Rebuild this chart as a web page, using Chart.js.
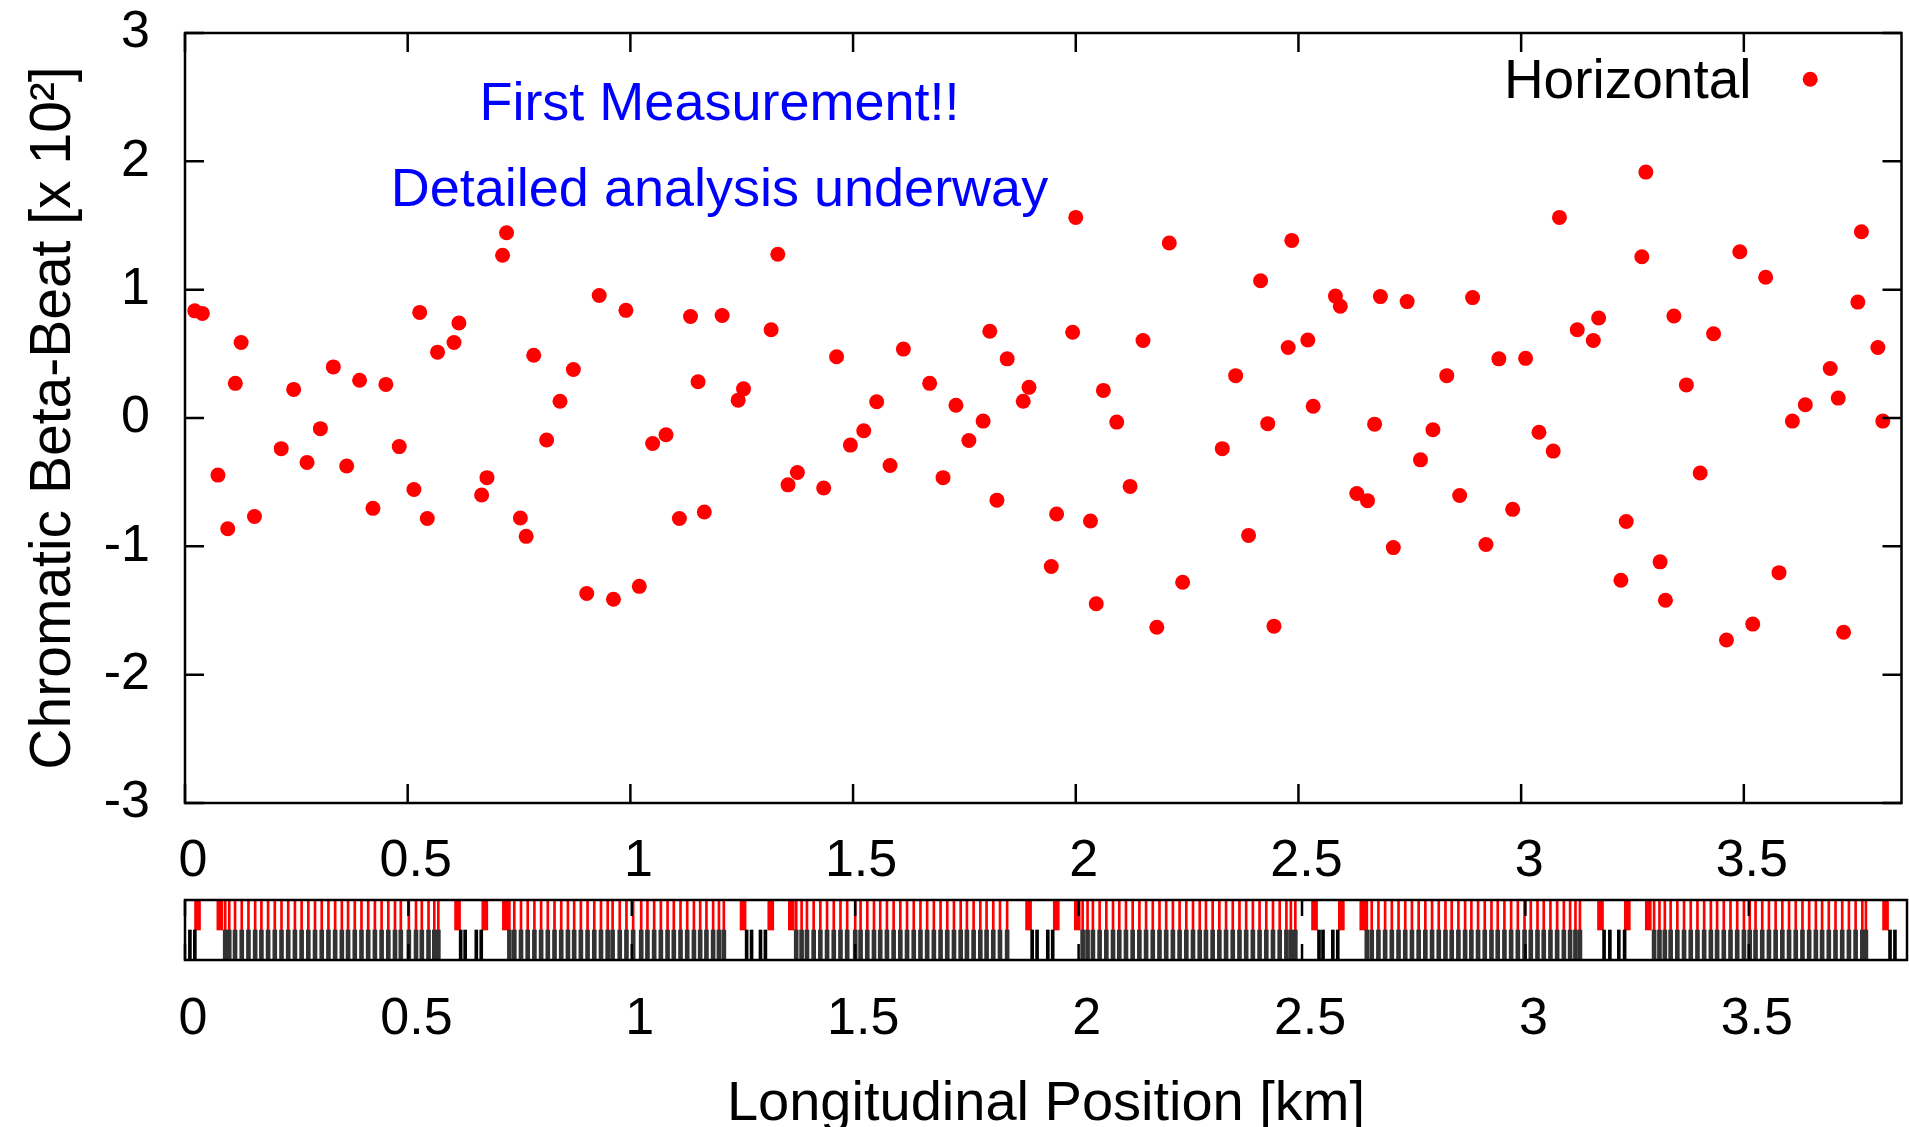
<!DOCTYPE html>
<html><head><meta charset="utf-8">
<script src="https://cdn.jsdelivr.net/npm/chart.js@4"></script>
<style>
html,body{margin:0;padding:0;background:#fff;overflow:hidden;width:1909px;height:1127px;}
#c1{position:absolute;left:0;top:0;}
#c2{position:absolute;left:0;top:890px;}
</style></head><body>
<canvas id="c1" width="1909" height="890"></canvas>
<canvas id="c2" width="1909" height="237"></canvas>
<script>
// ---------- data ----------
const seriesLabel = 'Horizontal';
const positionKm = [
 0.022,0.039,0.074,0.096,0.113,0.126,0.156,0.216,0.244,0.274,0.304,0.333,0.363,0.392,0.422,0.451,0.481,0.514,0.527,0.544,
 0.567,0.604,0.615,0.666,0.678,0.713,0.722,0.753,0.766,0.783,0.812,0.842,0.872,0.902,0.930,0.962,0.990,
 1.020,1.050,1.080,1.110,1.135,1.152,1.166,1.206,1.242,1.254,1.316,1.331,1.354,1.375,1.434,1.463,1.494,1.524,1.553,
 1.583,1.613,1.672,1.702,1.731,1.760,1.792,1.807,1.823,1.846,1.882,1.895,1.945,1.957,
 1.993,2.000,2.033,2.046,2.062,2.092,2.122,2.151,2.182,2.210,2.240,2.329,2.359,2.388,2.415,2.431,2.445,2.477,2.485,
 2.521,2.533,2.583,2.594,2.631,2.655,2.671,2.684,2.713,2.744,2.774,2.802,2.833,2.862,2.891,2.921,2.950,
 2.981,3.010,3.040,3.072,3.086,3.126,3.162,3.174,3.224,3.236,3.271,3.280,3.312,3.324,3.343,3.371,3.402,3.432,3.461,
 3.491,3.520,3.549,3.579,3.609,3.638,3.694,3.712,3.724,3.756,3.764,3.801,3.812
];
const chromaticBetaBeat = [
 0.835,0.815,-0.445,-0.863,0.270,0.588,-0.767,-0.239,0.223,-0.346,-0.083,0.398,-0.374,0.294,-0.704,0.262,-0.223,-0.557,0.823,-0.783,
 0.513,0.588,0.740,-0.600,-0.465,1.268,1.443,-0.779,-0.922,0.489,-0.171,0.131,0.378,-1.368,0.954,-1.412,0.839,
 -1.312,-0.199,-0.131,-0.783,0.791,0.282,-0.732,0.799,0.139,0.227,0.688,1.276,-0.521,-0.425,-0.545,0.477,-0.211,-0.099,0.127,
 -0.370,0.537,0.270,-0.465,0.099,-0.175,-0.024,0.676,-0.640,0.461,0.131,0.239,-1.157,-0.748,
 0.668,1.563,-0.803,-1.447,0.215,-0.032,-0.533,0.604,-1.630,1.364,-1.280,-0.239,0.330,-0.915,1.070,-0.044,-1.622,0.549,1.384,
 0.608,0.091,0.950,0.871,-0.588,-0.644,-0.048,0.946,-1.010,0.907,-0.326,-0.091,0.330,-0.604,0.938,-0.986,0.461,
 -0.712,0.465,-0.111,-0.258,1.563,0.688,0.604,0.779,-1.264,-0.807,1.256,1.916,-1.121,-1.420,0.795,0.258,-0.429,0.656,-1.730,
 1.296,-1.606,1.097,-1.205,-0.024,0.103,0.386,0.155,-1.670,0.903,1.451,0.549,-0.024
];
const noteLines = ['First Measurement!!', 'Detailed analysis underway'];
const yAxisTitle = 'Chromatic Beta-Beat [x 10\u00B2]';
const xAxisTitle = 'Longitudinal Position [km]';
const xRange = [0, 3.854];
const yRange = [-3, 3];
const xTickStep = 0.5;
const yTickStep = 1;

// lattice strip: arc cells (quadrupole on top row, dipole on bottom row)
const arcCellKm = [
 0.090,0.099,0.112,0.127,0.142,0.157,0.171,0.186,0.201,0.216,0.231,0.246,0.261,0.276,0.291,0.306,0.321,0.336,0.351,0.365,
 0.380,0.395,0.410,0.425,0.440,0.455,0.470,0.483,0.501,0.517,0.530,0.545,0.558,0.567,
 0.726,0.737,0.752,0.767,0.782,0.797,0.812,0.827,0.842,0.857,0.871,0.886,0.901,0.916,0.931,0.946,0.957,0.973,0.988,1.003,
 1.021,1.035,1.050,1.065,1.080,1.094,1.109,1.124,1.139,1.153,1.167,1.182,1.195,1.206,
 1.368,1.380,1.392,1.407,1.422,1.437,1.452,1.467,1.482,1.500,1.512,1.527,1.542,1.556,1.571,1.586,1.601,1.616,1.631,1.646,
 1.661,1.676,1.691,1.706,1.721,1.736,1.750,1.765,1.780,1.794,1.809,1.824,1.840,
 2.009,2.020,2.032,2.047,2.062,2.077,2.091,2.106,2.121,2.136,2.151,2.166,2.181,2.196,2.211,2.226,2.241,2.256,2.271,2.285,
 2.300,2.315,2.330,2.345,2.360,2.375,2.390,2.405,2.420,2.435,2.450,2.465,2.475,2.485,
 2.645,2.656,2.671,2.686,2.701,2.716,2.731,2.746,2.761,2.776,2.791,2.806,2.821,2.835,2.850,2.865,2.879,2.894,2.909,2.924,
 2.938,2.953,2.968,2.983,2.998,3.012,3.027,3.041,3.056,3.071,3.086,3.100,3.112,3.122,
 3.288,3.300,3.312,3.325,3.340,3.355,3.370,3.385,3.400,3.415,3.429,3.444,3.459,3.474,3.489,3.502,3.515,3.530,3.545,3.560,
 3.575,3.590,3.605,3.620,3.635,3.650,3.664,3.679,3.694,3.709,3.724,3.739,3.754,3.762
];
const wideQuadKm = [0.028,0.078,0.610,0.671,0.717,1.249,1.311,1.357,1.888,1.950,1.997,2.528,2.588,2.636,3.168,3.228,3.275,3.806];
const straightBendKm = [0.011,0.022,0.617,0.627,0.652,0.663,1.257,1.268,1.288,1.299,1.896,1.907,1.931,1.942,
 2.538,2.547,2.569,2.580,3.176,3.189,3.209,3.222,3.816,3.827];

// ---------- styling ----------
const FONT = "'Liberation Sans', Arial, Helvetica, sans-serif";
Chart.defaults.font.family = FONT;
Chart.defaults.color = '#000';

const fmtTick = v => String(Math.round(v * 100) / 100);

const frameTicks = {
  id: 'frameTicks',
  afterDraw(chart, args, o) {
    const {ctx, chartArea: a, scales} = chart;
    ctx.save();
    ctx.strokeStyle = '#000';
    ctx.lineWidth = o.lineWidth;
    ctx.beginPath();
    scales.x.ticks.forEach(t => {
      const px = scales.x.getPixelForValue(t.value);
      ctx.moveTo(px, a.bottom); ctx.lineTo(px, a.bottom - o.len);
      ctx.moveTo(px, a.top); ctx.lineTo(px, a.top + o.len);
    });
    if (o.yTicks) {
      scales.y.ticks.forEach(t => {
        const py = scales.y.getPixelForValue(t.value);
        ctx.moveTo(a.left, py); ctx.lineTo(a.left + o.len, py);
        ctx.moveTo(a.right, py); ctx.lineTo(a.right - o.len, py);
      });
    }
    ctx.stroke();
    ctx.strokeRect(a.left, a.top, a.right - a.left, a.bottom - a.top);
    ctx.restore();
  }
};

const notes = {
  id: 'notes',
  afterDraw(chart, args, o) {
    const {ctx, chartArea: a, scales: {x}} = chart;
    ctx.save();
    ctx.fillStyle = '#0000ff';
    ctx.font = o.noteSize + 'px ' + FONT;
    ctx.textAlign = 'center';
    ctx.textBaseline = 'alphabetic';
    const cx = x.getPixelForValue(o.noteAtKm);
    noteLines.forEach((t, i) => ctx.fillText(t, cx, a.top + o.noteBaselines[i]));
    const ds = chart.data.datasets[0];
    ctx.fillStyle = '#000';
    ctx.font = o.legendSize + 'px ' + FONT;
    ctx.textAlign = 'right';
    ctx.fillText(ds.label, a.right - o.legendTextRight, a.top + o.legendBaseline);
    ctx.beginPath();
    ctx.arc(a.right - o.legendDotRight, a.top + o.legendDotY, ds.pointRadius, 0, Math.PI * 2);
    ctx.fillStyle = ds.pointBackgroundColor;
    ctx.fill();
    ctx.restore();
  }
};

const noGrid = {display: false, drawTicks: false};

new Chart(document.getElementById('c1'), {
  type: 'scatter',
  data: {
    datasets: [{
      label: seriesLabel,
      data: positionKm.map((x, i) => ({x: x, y: chromaticBetaBeat[i]})),
      pointRadius: 7.5,
      pointBackgroundColor: '#ff0000',
      pointBorderWidth: 0,
      showLine: false
    }]
  },
  options: {
    responsive: false,
    devicePixelRatio: 1,
    animation: false,
    events: [],
    layout: {padding: {top: 33, right: 2, left: 0, bottom: 0}},
    plugins: {
      legend: {display: false},
      tooltip: {enabled: false},
      frameTicks: {len: 19, lineWidth: 2.5, yTicks: true},
      notes: {noteAtKm: 1.2, noteSize: 54, noteBaselines: [86.5, 173],
              legendSize: 55, legendTextRight: 150, legendBaseline: 64.6,
              legendDotRight: 91.3, legendDotY: 46.2}
    },
    scales: {
      x: {
        type: 'linear', min: xRange[0], max: xRange[1],
        grid: noGrid, border: {display: false},
        ticks: {stepSize: xTickStep, includeBounds: false, autoSkip: false, maxRotation: 0,
                font: {size: 52}, color: '#000', padding: 27, labelOffset: 8, callback: fmtTick},
        afterFit: s => { s.height = 87; s.paddingLeft = 0; s.paddingRight = 0; }
      },
      y: {
        type: 'linear', min: yRange[0], max: yRange[1],
        grid: noGrid, border: {display: false},
        ticks: {stepSize: yTickStep, font: {size: 52}, color: '#000', padding: 35, callback: fmtTick},
        title: {display: true, text: yAxisTitle, color: '#000', font: {size: 57, lineHeight: 1}, padding: {top: 26, bottom: 0}},
        afterFit: s => { s.width = 185; s.paddingTop = 0; s.paddingBottom = 0; }
      }
    }
  },
  plugins: [frameTicks, notes]
});

const bars = (arr, lo, hi) => arr.map(p => ({x: p, y: [lo, hi]}));

new Chart(document.getElementById('c2'), {
  type: 'bar',
  data: {
    datasets: [
      {label: 'Arc bends', data: bars(arcCellKm, 0, 0.5), backgroundColor: '#333333', barThickness: 4, grouped: false},
      {label: 'Straight bends', data: bars(straightBendKm, 0, 0.5), backgroundColor: '#000000', barThickness: 3, grouped: false},
      {label: 'Arc quads', data: bars(arcCellKm, 0.5, 1), backgroundColor: '#ff0000', barThickness: 2, grouped: false},
      {label: 'Straight quads', data: bars(wideQuadKm, 0.5, 1), backgroundColor: '#ff0000', barThickness: 6, grouped: false}
    ]
  },
  options: {
    responsive: false,
    devicePixelRatio: 1,
    animation: false,
    events: [],
    layout: {padding: {top: 10, right: 2, left: 185, bottom: 0}},
    plugins: {
      legend: {display: false},
      tooltip: {enabled: false},
      frameTicks: {len: 16, lineWidth: 2.5, yTicks: false}
    },
    scales: {
      x: {
        type: 'linear', min: xRange[0], max: xRange[1], offset: false,
        grid: {display: false, drawTicks: false, offset: false}, border: {display: false},
        ticks: {stepSize: xTickStep, includeBounds: false, autoSkip: false, maxRotation: 0,
                font: {size: 52}, color: '#000', padding: 28, labelOffset: 8, callback: fmtTick},
        title: {display: true, text: xAxisTitle, color: '#000', font: {size: 56, lineHeight: 0.8}, padding: {top: 0, bottom: 0}},
        afterFit: s => { s.height = 167; s.paddingLeft = 0; s.paddingRight = 0; }
      },
      y: {type: 'linear', min: 0, max: 1, display: false}
    }
  },
  plugins: [frameTicks]
});
</script>
</body></html>
